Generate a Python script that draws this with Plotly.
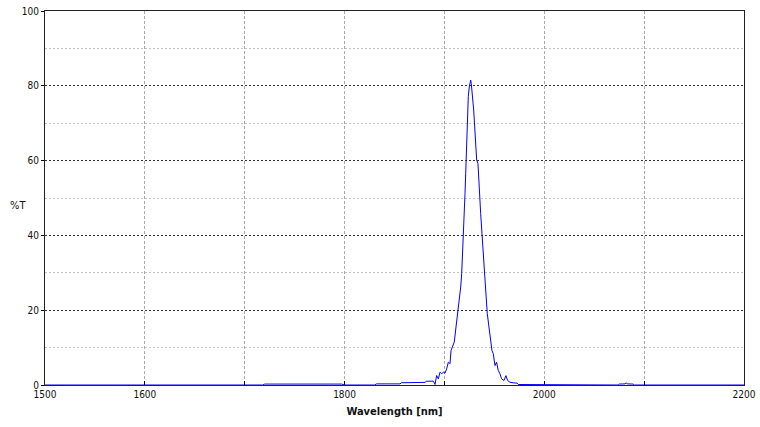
import plotly.graph_objects as go

# Wavelength (nm) and transmittance (%T)
wavelength = [1500, 1718, 1720, 1797, 1800, 1830, 1832, 1855.5, 1857, 1880.5, 1882,
              1888.9, 1890.6, 1892.2, 1893.9, 1895.6, 1897.2, 1898.9, 1900.6, 1902.2,
              1903.9, 1905.6, 1906.6, 1908.9, 1909.9, 1911.6, 1913.3, 1914.9, 1916.3,
              1917.3, 1918.3, 1918.9, 1919.9, 1920.6, 1921.3, 1921.9, 1922.6, 1923.3,
              1923.9, 1924.9, 1925.6, 1926.3, 1926.9, 1927.6, 1928.3, 1929.3, 1930.3,
              1931.3, 1932.3, 1933.6, 1934.9, 1936.3, 1937.6, 1938.9, 1940.3, 1941.6,
              1942.9, 1944.6, 1946.3, 1947.6, 1948.9, 1950.6, 1952.2, 1953.9, 1955.6,
              1957.2, 1959.6, 1961.6, 1963.3, 1965.6, 1968.9, 1972.9, 1974, 2074, 2075,
              2081, 2082, 2083, 2089, 2090, 2200]
transmittance = [0, 0, 0.25, 0.25, 0, 0, 0.3, 0.3, 0.6, 0.7, 1.0,
                 1.03, 0.13, 2.54, 1.65, 3.43, 3.0, 3.43, 3.16, 4.3,
                 6.1, 5.7, 9.2, 10.6, 11.5, 15.5, 19.1, 22.6, 26.2,
                 29.8, 35.1, 40.5, 45.8, 51.2, 56.5, 62.8, 68.1, 73.5,
                 77.1, 79.7, 81.1, 81.5, 80.6, 78.8, 78.0, 73.5, 69.0,
                 64.6, 60.1, 59.2, 51.2, 45.8, 40.5, 35.1, 29.8, 24.4,
                 19.1, 15.5, 11.9, 9.2, 8.4, 5.2, 6.1, 3.9, 3.0,
                 1.66, 1.2, 2.5, 1.2, 0.75, 0.58, 0.49, 0.13, 0, 0.25,
                 0.3, 0.6, 0.3, 0.25, 0, 0]

x_ticks = [1500, 1600, 1700, 1800, 1900, 2000, 2100, 2200]
x_tick_text = ["1500", "1600", "", "1800", "", "2000", "", "2200"]
y_ticks = [0, 20, 40, 60, 80, 100]

FONT = "DejaVu Sans Condensed, Liberation Sans Narrow, Arial Narrow, Liberation Sans, sans-serif"

fig = go.Figure()
fig.add_trace(go.Scatter(x=wavelength, y=transmittance, mode="lines",
                         line=dict(color="#0000ff", width=1), cliponaxis=False,
                         showlegend=False, hoverinfo="x+y"))

fig.update_layout(
    width=760, height=427,
    margin=dict(l=45, r=16, t=11, b=42, autoexpand=False),
    paper_bgcolor="white", plot_bgcolor="white",
    font=dict(family=FONT, size=10, color="#111111"),
    xaxis=dict(range=[1500, 2200], tickvals=x_ticks, ticktext=x_tick_text,
               automargin=False,
               showgrid=True, gridcolor="#a8a8a8", griddash="3px,2px", gridwidth=1,
               showline=True, linecolor="#222222", linewidth=1, mirror=True,
               ticks="inside", ticklen=4, tickcolor="#000000",
               zeroline=False, layer="below traces",
               title=dict(text="<b>Wavelength [nm]</b>", standoff=8,
                          font=dict(family=FONT, size=11))),
    yaxis=dict(range=[0, 100], tickvals=y_ticks, automargin=False,
               showgrid=True, gridcolor="#333333", griddash="2px,2px", gridwidth=1,
               minor=dict(dtick=10, showgrid=True, gridcolor="#c4c4c4",
                          griddash="2px,2px", ticks=""),
               showline=True, linecolor="#222222", linewidth=1, mirror=True,
               ticks="outside", ticklen=3, tickcolor="#000000",
               zeroline=False, layer="below traces"),
    annotations=[dict(text="%T", xref="paper", yref="y", x=-0.038, y=48,
                      showarrow=False, xanchor="center", yanchor="middle",
                      font=dict(family=FONT, size=11, color="#111111"))],
)

fig.write_html("out.html", config={"displayModeBar": False},
               post_script="document.body.style.margin='0';document.body.style.overflow='hidden';")
